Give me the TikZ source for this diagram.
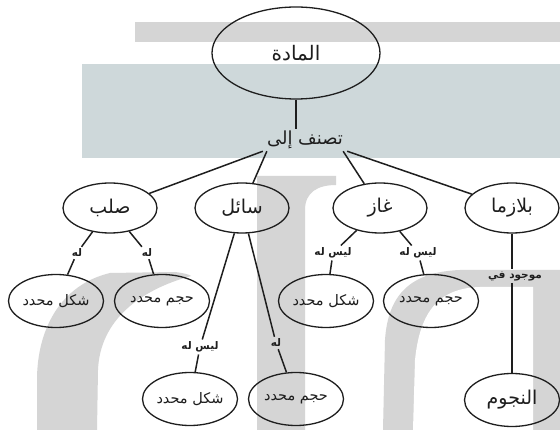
\documentclass[tikz,border=0pt]{standalone}
\usepackage{fontspec}
\usetikzlibrary{shapes.geometric}
\TeXXeTstate=1
\newfontfamily\arabicfont[Script=Arabic]{DejaVu Sans}
\newcommand{\ar}[1]{{\arabicfont\beginR #1\endR}}
\definecolor{wmgray}{RGB}{213,213,213}
\definecolor{wmblue}{RGB}{206,216,218}
\definecolor{ink}{RGB}{30,30,30}
\tikzset{
  ell/.style={ellipse, draw=ink, line width=1.3pt, minimum width=94pt, minimum height=50pt, inner sep=0pt, text=ink, font=\fontsize{19}{21}\selectfont},
  ellsm/.style={ell, minimum width=95pt, minimum height=53pt, font=\fontsize{14.5}{16}\selectfont},
  lbl/.style={inner sep=2pt, text=ink, font=\fontsize{10.5}{12}\selectfont\bfseries},
  conn/.style={draw=ink, line width=1.5pt}
}
\begin{document}
\begin{tikzpicture}[x=1pt,y=-1pt]
\useasboundingbox (0,0) rectangle (560,430);
% watermark background
\fill[white] (0,0) rectangle (560,430);
\fill[wmgray] (135,22) rectangle (560,42);
\fill[wmblue] (82,64) rectangle (560,158);
% stem
\fill[wmgray] (257,176) -- (336,176) -- (336,185) .. controls (318,185) and (305,192) .. (305,210) -- (305,430) -- (257,430) -- cycle;
% left c
\fill[wmgray] (37,430) -- (37,380) .. controls (37,330) and (60,285) .. (110,273) -- (175,272) .. controls (183,273) and (188,274) .. (191,276)
  .. controls (140,290) and (100,320) .. (98,370) -- (97,430) -- cycle;
% right c
\fill[wmgray] (383,430) -- (385,340) .. controls (388,295) and (410,272) .. (460,270) -- (560,270) -- (560,430) -- cycle;
\fill[white] (413,430) -- (415,360) .. controls (420,310) and (440,288) .. (480,287) -- (533,287) -- (533,430) -- cycle;

% nodes
\node[ell, minimum width=168pt, minimum height=92pt, font=\fontsize{20}{22}\selectfont] (top) at (296,53) {\ar{المادة}};
\node[inner sep=2pt, text=ink, font=\fontsize{18}{20}\selectfont] (cls) at (305,140) {\ar{تصنف إلى}};

\node[ell] (solid)  at (110,208) {\ar{صلب}};
\node[ell] (liquid) at (242,208) {\ar{سائل}};
\node[ell] (gas)    at (380,208) {\ar{غاز}};
\node[ell] (plasma) at (512,208) {\ar{بلازما}};

\node[ellsm] (s1) at (56,301)  {\ar{شكل محدد}};
\node[ellsm] (s2) at (162,301) {\ar{حجم محدد}};
\node[ellsm] (g1) at (326,301) {\ar{شكل محدد}};
\node[ellsm] (g2) at (431,301) {\ar{حجم محدد}};

\node[ellsm] (q1) at (190,399) {\ar{شكل محدد}};
\node[ellsm] (q2) at (296,399) {\ar{حجم محدد}};
\node[ellsm, font=\fontsize{19}{21}\selectfont] (stars) at (512,400) {\ar{النجوم}};

\node[lbl] (ls1) at (77,253)  {\ar{له}};
\node[lbl] (ls2) at (147,253) {\ar{له}};
\node[lbl] (lg1) at (333,253) {\ar{ليس له}};
\node[lbl] (lg2) at (418,253) {\ar{ليس له}};
\node[lbl] (lp)  at (515,276) {\ar{موجود في}};
\node[lbl] (ll1) at (200,347) {\ar{ليس له}};
\node[lbl] (ll2) at (276,343) {\ar{له}};

% connectors
\draw[conn] (top.south) -- (top.south |- cls.north);
\draw[conn] ([xshift=-2pt]cls.south west) -- (solid);
\draw[conn] ([xshift=2pt]cls.south west) -- (liquid);
\draw[conn] ([xshift=-2pt]cls.south east) -- (gas);
\draw[conn] ([xshift=2pt]cls.south east) -- (plasma);

\draw[conn] (solid) -- (ls1);  \draw[conn] (ls1) -- (s1);
\draw[conn] (solid) -- (ls2);  \draw[conn] (ls2) -- (s2);
\draw[conn] (gas) -- (lg1);    \draw[conn] (lg1) -- (g1);
\draw[conn] (gas) -- (lg2);    \draw[conn] (lg2) -- (g2);
\draw[conn] (liquid) -- (ll1); \draw[conn] (ll1) -- (q1);
\draw[conn] (liquid) -- (ll2); \draw[conn] (ll2) -- (q2);
\draw[conn] (plasma.south) -- (plasma.south |- lp.north);
\draw[conn] (plasma.south |- lp.south) -- (stars.north);
\end{tikzpicture}
\end{document}
